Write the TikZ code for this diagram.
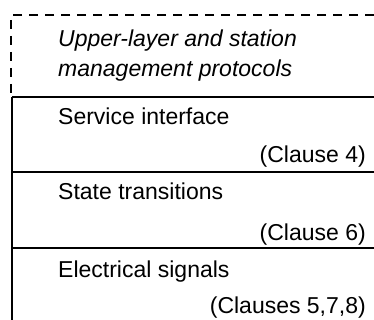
\documentclass[tikz,border=0pt]{standalone}
\usepackage{fontspec}
\setmainfont{Liberation Sans}
\begin{document}
\begin{tikzpicture}[x=1pt,y=-1pt,
  rule/.style={line width=2pt},
  dashrule/.style={line width=2.4pt,dash pattern=on 9pt off 7pt},
  lbl/.style={inner sep=0pt,font=\fontsize{23}{27}\selectfont,anchor=base west},
  rlbl/.style={inner sep=0pt,font=\fontsize{23}{27}\selectfont,anchor=base east}]
\useasboundingbox (0,0) rectangle (374,320);
% frame coordinates
\coordinate (tl) at (11,15);
\coordinate (tr) at (374,15);
\coordinate (l1) at (12,97);
\coordinate (r1) at (374,97);
\coordinate (l2) at (12,172);
\coordinate (r2) at (374,172);
\coordinate (l3) at (12,248);
\coordinate (r3) at (374,248);
\coordinate (lb) at (12,320);
% dashed upper layer
\draw[dashrule] (tr) -- (tl) -- (11,95);
% solid layers
\draw[rule] (l1) -- (r1);
\draw[rule] (l2) -- (r2);
\draw[rule] (l3) -- (r3);
\draw[line width=2.4pt] (l1) -- (lb);
% texts
\node[lbl] (up1) at (58,47) {\itshape Upper-layer and station};
\node[lbl] (up2) at (58,77) {\itshape management protocols};
\node[lbl] (si) at (58,125) {Service interface};
\node[rlbl] (c4) at (366,163) {(Clause 4)};
\node[lbl] (st) at (58,200) {State transitions};
\node[rlbl] (c6) at (366,240) {(Clause 6)};
\node[lbl] (es) at (58,277) {Electrical signals};
\node[rlbl] (c578) at (366,313) {(Clauses 5,7,8)};
\end{tikzpicture}
\end{document}
